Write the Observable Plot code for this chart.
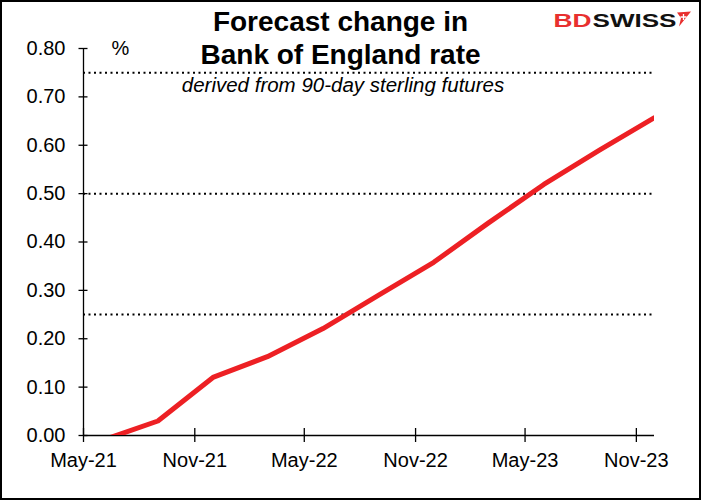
<!DOCTYPE html>
<html>
<head>
<meta charset="utf-8">
<script src="https://cdn.jsdelivr.net/npm/d3@7"></script>
<script src="https://cdn.jsdelivr.net/npm/@observablehq/plot@0.6"></script>
<style>
  body { margin: 0; background: #fff; }
  #chart svg { display: block; }
</style>
</head>
<body>
<div id="chart"></div>
<script>
// ---- data ----
const dates = ["2021-06-01", "2021-09-01", "2021-12-01", "2022-03-01", "2022-06-01", "2022-09-01",
               "2022-12-01", "2023-03-01", "2023-06-01", "2023-09-01", "2023-12-01"];
const values = [-0.01, 0.03, 0.12, 0.163, 0.221, 0.29, 0.358, 0.439, 0.519, 0.59, 0.657];
const refLevels = [0.25, 0.5, 0.75];
const yTicks = [0, 0.1, 0.2, 0.3, 0.4, 0.5, 0.6, 0.7, 0.8];
const xTicks = ["2021-05-01", "2021-11-01", "2022-05-01", "2022-11-01", "2023-05-01", "2023-11-01"];
const xDomain = ["2021-05-01", "2023-12-01"];
const titleLines = ["Forecast change in", "Bank of England rate"];
const subtitle = "derived from 90-day sterling futures";
const unitLabel = "%";
const logoParts = ["BD", "SWISS"];

const data = dates.map((d, i) => ({date: new Date(d), value: values[i]}));
const xTickDates = xTicks.map(d => new Date(d));

const W = 701, H = 500;
const mL = 83, mR = 47, mT = 48, mB = 65;
const frameCx = (mL + (W - mR)) / 2;

const chart = Plot.plot({
  width: W,
  height: H,
  marginLeft: mL,
  marginRight: mR,
  marginTop: mT,
  marginBottom: mB,
  style: {fontFamily: "'Liberation Sans', Arial, sans-serif", fontSize: "20px", color: "#000", background: "#fff"},
  x: {type: "utc", domain: xDomain.map(d => new Date(d))},
  y: {domain: [0, 0.8]},
  marks: [
    // dotted reference lines
    Plot.ruleY(refLevels, {y: d => d, stroke: "#000", strokeWidth: 2, strokeDasharray: "2,3.5"}),
    // axis lines
    Plot.ruleX([new Date(xDomain[0])], {y1: 0, y2: 0.8, stroke: "#000", strokeWidth: 1.3}),
    Plot.ruleY([0], {stroke: "#000", strokeWidth: 1.3}),
    // crossing ticks
    Plot.axisY({ticks: yTicks, tickSize: 9, dx: 4.5, tickFormat: () => "", label: null, strokeWidth: 1.3}),
    Plot.axisX({ticks: xTickDates, tickSize: 14, dy: -7, tickFormat: () => "", label: null, strokeWidth: 1.3}),
    // tick labels
    Plot.axisY({ticks: yTicks, tickSize: 0, tickPadding: 18, tickFormat: d3.format(".2f"), label: null, fontSize: 20}),
    Plot.axisX({ticks: xTickDates, tickSize: 0, tickPadding: 17, tickFormat: d3.utcFormat("%b-%y"), label: null, fontSize: 20}),
    // series
    Plot.line(data, {x: "date", y: "value", stroke: "#ed2024", strokeWidth: 5, clip: true}),
    // title
    Plot.text([titleLines.join("\n")], {
      text: d => d, frameAnchor: "top", lineAnchor: "bottom", lineHeight: 33 / 28,
      dx: 340 - frameCx, dy: 63 - mT, fontSize: 28, fontWeight: "bold", fill: "#000"
    }),
    // subtitle
    Plot.text([subtitle], {
      text: d => d, frameAnchor: "top", lineAnchor: "bottom",
      dx: 342.5 - frameCx, dy: 91 - mT, fontSize: 20.5, fontStyle: "italic", fill: "#000"
    }),
    // unit label
    Plot.text([unitLabel], {
      text: d => d, frameAnchor: "top-left", textAnchor: "middle", lineAnchor: "middle",
      dx: 120 - mL, dy: 0, fontSize: 20, fill: "#000"
    }),
    // logo
    Plot.text([logoParts[0]], {
      text: d => d, frameAnchor: "top-right", textAnchor: "start", lineAnchor: "bottom",
      dx: 553 - (W - mR), dy: 26 - mT, fontSize: 18.5, fontWeight: 900, fill: "#e8302f"
    }),
    Plot.text([logoParts[1]], {
      text: d => d, frameAnchor: "top-right", textAnchor: "start", lineAnchor: "bottom",
      dx: 592 - (W - mR), dy: 26 - mT, fontSize: 18.5, fontWeight: 900, fill: "#111"
    })
  ]
});

const svg = d3.select(chart);
// stretch logo wordmark to its wide proportions
svg.selectAll("text").filter(function() { return this.textContent === logoParts[0]; })
  .attr("textLength", 38).attr("lengthAdjust", "spacingAndGlyphs");
svg.selectAll("text").filter(function() { return this.textContent === logoParts[1]; })
  .attr("textLength", 84).attr("lengthAdjust", "spacingAndGlyphs");
// logo icon
svg.append("path")
  .attr("d", "M677,12.5 L691,11.5 L679,26.5 L681,18 Z")
  .attr("fill", "#e8302f");
svg.append("path")
  .attr("d", "M683.5,14 L683.5,20 M680.5,17 L686.5,17")
  .attr("stroke", "#fff").attr("stroke-width", 1.3);
// outer border
svg.append("rect")
  .attr("x", 1).attr("y", 1).attr("width", W - 2).attr("height", H - 2)
  .attr("fill", "none").attr("stroke", "#000").attr("stroke-width", 2);

document.getElementById("chart").appendChild(chart);
</script>
</body>
</html>
